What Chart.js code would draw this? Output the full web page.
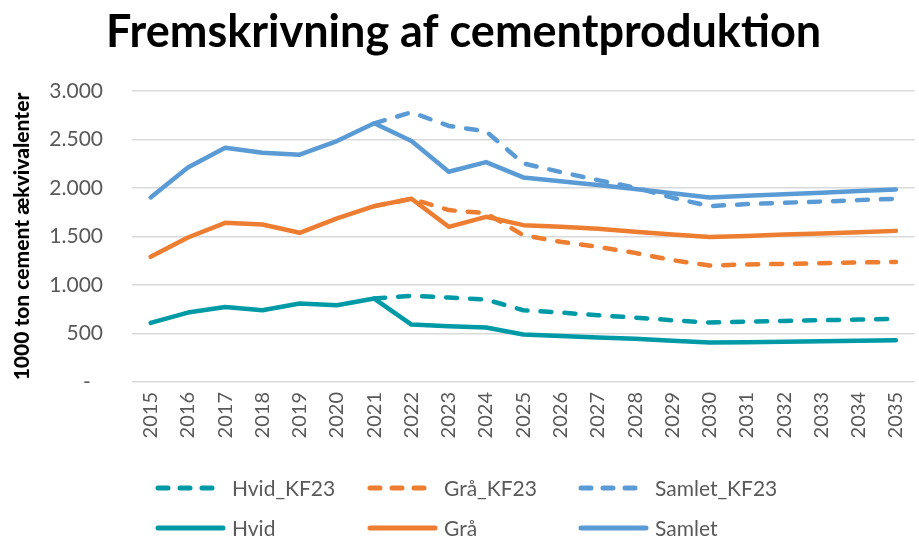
<!DOCTYPE html>
<html>
<head>
<meta charset="utf-8">
<script src="https://cdn.jsdelivr.net/npm/chart.js@4"></script>
<style>
  html, body { margin: 0; padding: 0; background: #fff; overflow: hidden; }
  #wrap { width: 930px; height: 541px; position: relative; }
</style>
</head>
<body>
<div id="wrap"><canvas id="chart"></canvas></div>
<script>
// Data (1000 ton cement ækvivalenter)
const years = ['2015', '2016', '2017', '2018', '2019', '2020', '2021', '2022', '2023', '2024', '2025',
               '2026', '2027', '2028', '2029', '2030', '2031', '2032', '2033', '2034', '2035'];

const hvidKF23   = [null, null, null, null, null, null, 860, 888, 871, 850, 740, 716, 688, 664, 637, 613, 623, 630, 637, 644, 650];
const graKF23    = [null, null, null, null, null, null, 1813, 1889, 1772, 1740, 1514, 1445, 1393, 1331, 1256, 1201, 1211, 1218, 1225, 1232, 1238];
const samletKF23 = [null, null, null, null, null, null, 2667, 2780, 2640, 2585, 2254, 2165, 2081, 2005, 1900, 1813, 1834, 1848, 1860, 1875, 1889];

const hvid   = [609, 716, 774, 740, 809, 792, 860, 592, 575, 561, 489, 475, 460, 445, 425, 406, 410, 415, 420, 425, 430];
const gra    = [1290, 1490, 1641, 1624, 1538, 1686, 1813, 1889, 1600, 1703, 1617, 1600, 1580, 1550, 1520, 1496, 1505, 1520, 1530, 1545, 1558];
const samlet = [1903, 2212, 2415, 2363, 2343, 2484, 2667, 2484, 2167, 2267, 2109, 2070, 2030, 1990, 1945, 1903, 1920, 1935, 1950, 1968, 1985];

const yTicks = [0, 500, 1000, 1500, 2000, 2500, 3000];

const TEAL = '#009aa6';
const ORANGE = '#ed7d31';
const BLUE = '#5b9bd5';
const DASH = [11, 13];
const FONT = 'Lato, "Open Sans", sans-serif';

function fmt(v) {
    if (v === 0) return '-\u2007';
    return String(v).replace(/\B(?=(\d{3})+(?!\d))/g, '.');
}

function line(label, data, color, dashed) {
    return {
        label: label,
        data: data,
        borderColor: color,
        backgroundColor: color,
        borderWidth: 4.5,
        borderDash: dashed ? DASH : [],
        borderCapStyle: 'round',
        borderJoinStyle: 'round',
        pointRadius: 0,
        pointHoverRadius: 0,
        tension: 0,
        fill: false
    };
}

// legend in a 3 x 2 grid like the original
const gridLegend = {
    id: 'gridLegend',
    afterDraw(chart) {
        const ctx = chart.ctx;
        const cols = [155, 367, 578];
        const rows = [488, 528];
        ctx.save();
        chart.data.datasets.forEach((ds, i) => {
            const x = cols[i % 3];
            const y = rows[Math.floor(i / 3)];
            ctx.beginPath();
            ctx.strokeStyle = ds.borderColor;
            ctx.lineWidth = 5;
            ctx.lineCap = 'round';
            ctx.setLineDash(ds.borderDash.length ? [10, 12] : []);
            ctx.moveTo(x + 3, y);
            ctx.lineTo(x + 68, y);
            ctx.stroke();
            ctx.setLineDash([]);
            ctx.fillStyle = '#595959';
            ctx.font = '21px ' + FONT;
            ctx.textBaseline = 'middle';
            ctx.textAlign = 'left';
            ctx.fillText(ds.label, x + 77, y + 1);
        });
        ctx.restore();
    }
};

new Chart(document.getElementById('chart'), {
    type: 'line',
    data: {
        labels: years,
        datasets: [
            line('Hvid_KF23', hvidKF23, TEAL, true),
            line('Grå_KF23', graKF23, ORANGE, true),
            line('Samlet_KF23', samletKF23, BLUE, true),
            line('Hvid', hvid, TEAL, false),
            line('Grå', gra, ORANGE, false),
            line('Samlet', samlet, BLUE, false)
        ]
    },
    options: {
        responsive: true,
        maintainAspectRatio: false,
        animation: false,
        layout: { padding: { left: 0, right: 3, top: 0, bottom: 101 } },
        plugins: {
            legend: { display: false },
            tooltip: { enabled: false },
            title: {
                display: true,
                text: 'Fremskrivning af cementproduktion',
                color: '#000',
                font: { family: FONT, size: 45, weight: 'bold' },
                padding: { top: 5, bottom: 32 }
            }
        },
        scales: {
            x: {
                offset: true,
                grid: { display: false, drawTicks: false },
                border: { display: false },
                ticks: {
                    autoSkip: false,
                    minRotation: 90,
                    maxRotation: 90,
                    padding: 10,
                    color: '#595959',
                    font: { family: FONT, size: 20 }
                },
                afterFit(scale) { scale.height = 58; }
            },
            y: {
                min: 0,
                max: 3000,
                afterBuildTicks(scale) { scale.ticks = yTicks.map(v => ({ value: v })); },
                grid: { color: '#d9d9d9', lineWidth: 1.5, drawTicks: false },
                border: { display: false },
                ticks: {
                    padding: 29,
                    color: '#595959',
                    font: { family: FONT, size: 21 },
                    callback: v => fmt(v)
                },
                title: {
                    display: true,
                    text: '1000 ton cement ækvivalenter',
                    color: '#000',
                    font: { family: FONT, size: 21, weight: '900' },
                    padding: { top: 10, bottom: 0 }
                },
                afterFit(scale) { scale.width = 132; }
            }
        }
    },
    plugins: [gridLegend]
});
</script>
</body>
</html>
